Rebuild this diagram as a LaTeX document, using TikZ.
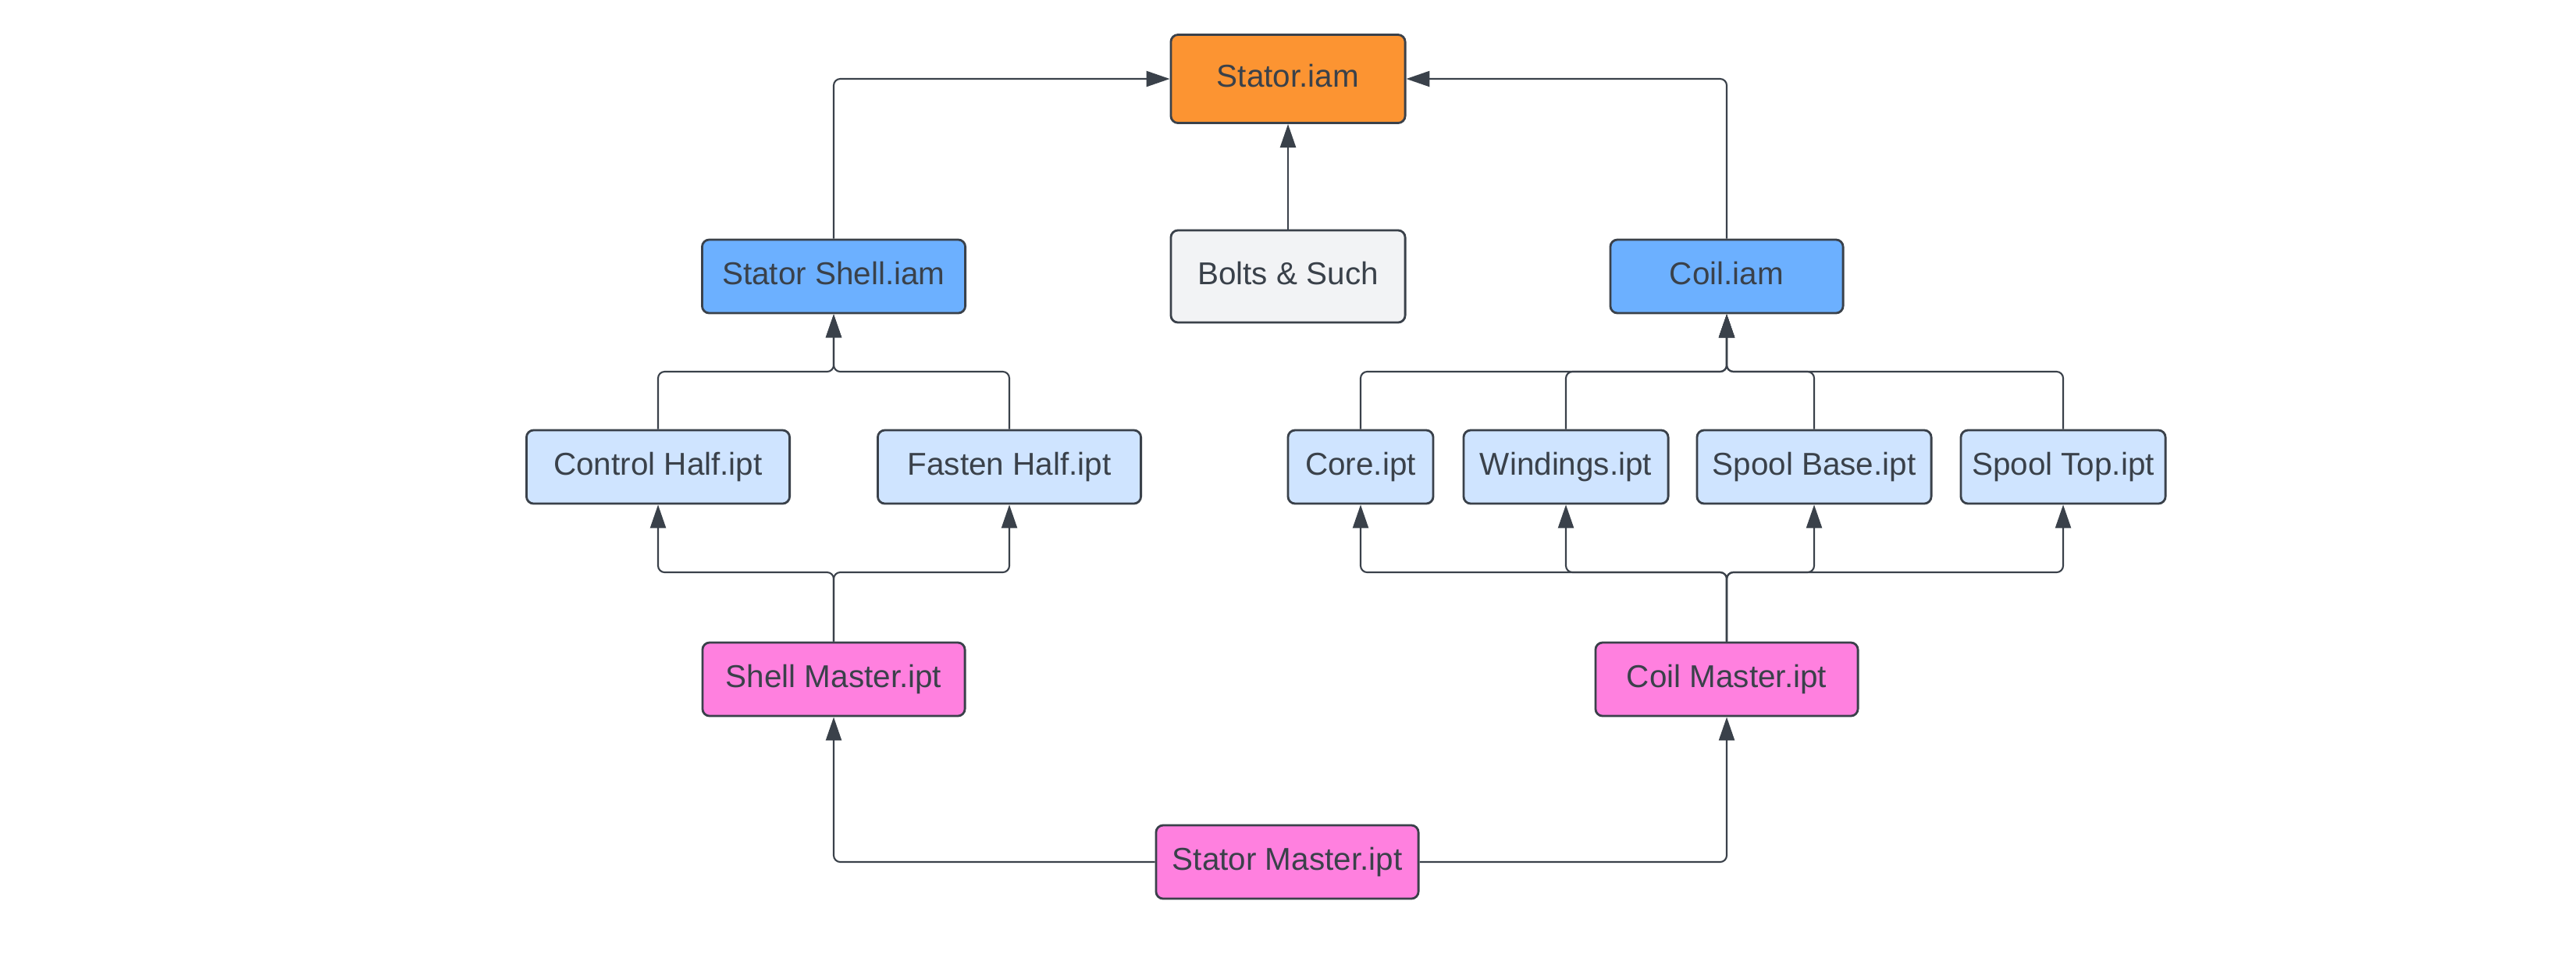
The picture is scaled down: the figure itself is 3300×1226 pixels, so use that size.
\documentclass[tikz,border=0pt]{standalone}
\usepackage{fontspec}
\setmainfont{Liberation Sans}
\usetikzlibrary{arrows.meta}
\definecolor{ink}{HTML}{3A414A}
\definecolor{orangefill}{HTML}{FC9432}
\definecolor{bluefill}{HTML}{6CB0FF}
\definecolor{lightblue}{HTML}{CFE4FF}
\definecolor{pinkfill}{HTML}{FF80DF}
\definecolor{grayfill}{HTML}{F2F3F5}
\tikzset{
  box/.style={draw=ink, line width=0.8pt, rounded corners=2.6pt, text=ink,
    inner sep=0pt, text height=8.4pt, text depth=2.4pt,
    font=\fontsize{11.5}{13}\selectfont, anchor=center},
  conn/.style={draw=ink, line width=0.6pt, rounded corners=2.4pt,
    -{Triangle[length=8.5pt,width=5.7pt]}},
}
\begin{document}
\begin{tikzpicture}[x=0.01cm, y=-0.01cm]
\useasboundingbox (0,0) rectangle (3300,1226);
% nodes
\node[box, fill=orangefill, minimum width=3cm, minimum height=1.13cm] (stator) at (1650,101) {Stator.iam};
\node[box, fill=grayfill, minimum width=3cm, minimum height=1.18cm] (bolts) at (1650,354) {Bolts \& Such};
\node[box, fill=bluefill, minimum width=3.37cm, minimum height=0.94cm] (shell) at (1068,354) {Stator Shell.iam};
\node[box, fill=bluefill, minimum width=2.98cm, minimum height=0.94cm] (coil) at (2212,354) {Coil.iam};
\node[box, fill=lightblue, minimum width=3.37cm, minimum height=0.94cm] (ctrl) at (843,598) {Control Half.ipt};
\node[box, fill=lightblue, minimum width=3.37cm, minimum height=0.94cm] (fasten) at (1293,598) {Fasten Half.ipt};
\node[box, fill=lightblue, minimum width=1.86cm, minimum height=0.94cm] (core) at (1743,598) {Core.ipt};
\node[box, fill=lightblue, minimum width=2.62cm, minimum height=0.94cm] (wind) at (2006,598) {Windings.ipt};
\node[box, fill=lightblue, minimum width=3.0cm, minimum height=0.94cm] (sbase) at (2324,598) {Spool Base.ipt};
\node[box, fill=lightblue, minimum width=2.62cm, minimum height=0.94cm] (stop) at (2643,598) {Spool Top.ipt};
\node[box, fill=pinkfill, minimum width=3.36cm, minimum height=0.94cm] (shellm) at (1068,870) {Shell Master.ipt};
\node[box, fill=pinkfill, minimum width=3.36cm, minimum height=0.94cm] (coilm) at (2212,870) {Coil Master.ipt};
\node[box, fill=pinkfill, minimum width=3.36cm, minimum height=0.94cm] (statorm) at (1649,1104) {Stator Master.ipt};
% junction coordinates
\coordinate (jshellup) at (1068,476);
\coordinate (jcoilup) at (2212,476);
\coordinate (jshelldn) at (1068,733);
\coordinate (jcoildn) at (2212,733);
% connectors to Stator.iam
\draw[conn] (shell.north) |- (stator.west);
\draw[conn] (coil.north) |- (stator.east);
\draw[conn] (bolts.north) -- (stator.south);
% parts to sub-assemblies
\draw[conn] (ctrl.north) |- (jshellup) -- (shell.south);
\draw[conn] (fasten.north) |- (jshellup) -- (shell.south);
\draw[conn] (core.north) |- (jcoilup) -- (coil.south);
\draw[conn] (wind.north) |- (jcoilup) -- (coil.south);
\draw[conn] (sbase.north) |- (jcoilup) -- (coil.south);
\draw[conn] (stop.north) |- (jcoilup) -- (coil.south);
% masters to parts
\draw[conn] (shellm.north) -- (jshelldn) -| (ctrl.south);
\draw[conn] (shellm.north) -- (jshelldn) -| (fasten.south);
\draw[conn] (coilm.north) -- (jcoildn) -| (core.south);
\draw[conn] (coilm.north) -- (jcoildn) -| (wind.south);
\draw[conn] (coilm.north) -- (jcoildn) -| (sbase.south);
\draw[conn] (coilm.north) -- (jcoildn) -| (stop.south);
% stator master
\draw[conn] (statorm.west) -| (shellm.south);
\draw[conn] (statorm.east) -| (coilm.south);
\end{tikzpicture}
\end{document}
